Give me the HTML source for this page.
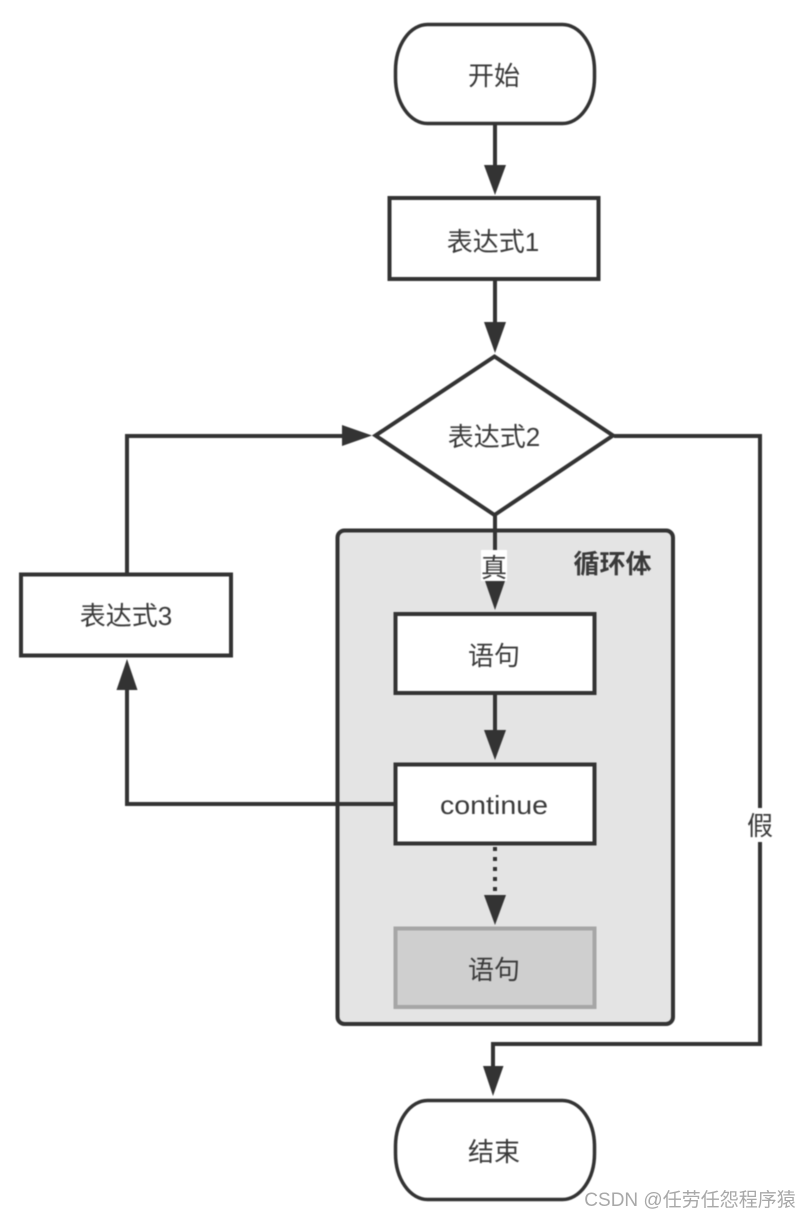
<!DOCTYPE html>
<html lang="zh">
<head>
<meta charset="utf-8">
<title>循环流程图</title>
<style>
html,body{margin:0;padding:0;background:#fff;width:811px;height:1219px;overflow:hidden}
svg{display:block;position:absolute;left:0;top:0}
text{font-family:"Liberation Sans","Noto Sans CJK SC",sans-serif;fill:#3a3a3a;font-size:26px;text-anchor:middle}
.s{fill:none;stroke:#333;stroke-width:4}
.w{fill:#fff;stroke:#333;stroke-width:4}
.a{fill:#333;stroke:none}
</style>
</head>
<body>
<svg width="811" height="1219" viewBox="0 0 811 1219" xmlns="http://www.w3.org/2000/svg">
<g style="filter:blur(.5px)">
<rect x="337.500" y="530.500" width="335.500" height="493.500" rx="7" fill="#e4e4e4" stroke="#333" stroke-width="4"/>
<path class="s" d="M495 124V170"/>
<path class="a" d="M484 165H506L495 195Z"/>
<rect class="w" x="389.500" y="198" width="209" height="81"/>
<path class="s" d="M495 280V326"/>
<path class="a" d="M484 322H506L495 353Z"/>
<path class="s" d="M495 515V585"/>
<rect x="481" y="550" width="26" height="31" fill="#fff"/>
<path class="a" d="M485 581H505L495 610Z"/>
<rect class="w" x="395.500" y="614" width="199" height="79"/>
<path class="s" d="M495 694V735"/>
<path class="a" d="M484 730H506L495 760Z"/>
<path class="s" d="M127 690V804H395"/>
<path class="a" d="M116.500 690H137.500L127 659Z"/>
<rect class="w" x="395.500" y="764.500" width="199" height="79"/>
<path d="M495 847V892" fill="none" stroke="#333" stroke-width="4" stroke-dasharray="4 6"/>
<path class="a" d="M484 895H506L495 925Z"/>
<rect x="395.500" y="928.500" width="199" height="78.500" fill="#cfcfcf" stroke="#a6a6a6" stroke-width="4"/>
<path class="s" d="M127 574V436H346"/>
<path class="a" d="M342 425V446L372 435.500Z"/>
<path d="M494.500 356.500L613 435.500L494.500 515L375.500 435.500Z" fill="#fff" stroke="#333" stroke-width="4"/>
<rect class="w" x="21" y="574.500" width="210" height="81"/>
<path class="s" d="M614 436H760V1044H493V1070"/>
<rect x="747" y="808" width="26" height="34" fill="#fff"/>
<path class="a" d="M483 1066H503.500L493 1096Z"/>
<rect x="395.500" y="24.500" width="199" height="99" rx="32" ry="46" fill="#fff" stroke="#333" stroke-width="3.500"/>
<rect x="395.500" y="1100.500" width="199" height="99" rx="32" ry="46" fill="#fff" stroke="#333" stroke-width="3.500"/>
<text x="494" y="85">开始</text>
<text x="493" y="251">表达式1</text>
<text x="494" y="446">表达式2</text>
<text x="494" y="577">真</text>
<text x="612.500" y="573" style="font-weight:700;font-size:26px">循环体</text>
<text x="494" y="665">语句</text>
<text x="126" y="625">表达式3</text>
<text x="494" y="814" textLength="108" lengthAdjust="spacingAndGlyphs">continue</text>
<text x="494" y="979">语句</text>
<text x="760" y="835">假</text>
<text x="494" y="1161">结束</text>
</g>
<text x="690" y="1206" style="fill:#a8a8a8;font-size:19px">CSDN @任劳任怨程序猿</text>
</svg>
</body>
</html>
